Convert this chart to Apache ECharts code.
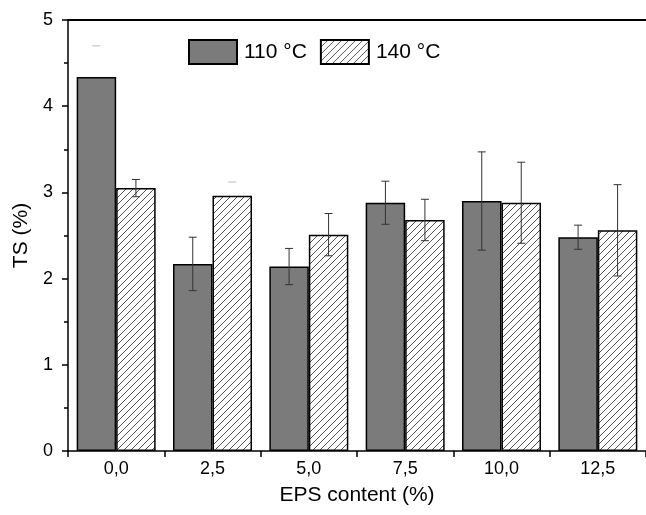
<!DOCTYPE html>
<html>
<head>
<meta charset="utf-8">
<script src="https://cdn.jsdelivr.net/npm/echarts@6/dist/echarts.min.js"></script>
<style>html,body{margin:0;padding:0;background:#fff;}#c{width:646px;height:515px;}</style>
</head>
<body>
<div id="c"></div>
<script>
const categories = ['0,0', '2,5', '5,0', '7,5', '10,0', '12,5'];
const ts110 = [4.34, 2.17, 2.14, 2.88, 2.90, 2.48];
const err110 = [0.36, 0.31, 0.21, 0.25, 0.57, 0.14];
const ts140 = [3.05, 2.96, 2.51, 2.68, 2.88, 2.56];
const err140 = [0.10, 0.16, 0.245, 0.24, 0.47, 0.53];
const yTicks = [0, 1, 2, 3, 4, 5];

// style: error bars rendered only as a faint upper cap in the original
const capOnly110 = [0];
const capOnly140 = [1];

const FONT = 'Liberation Sans, Arial, sans-serif';

// hatch pattern
const pc = document.createElement('canvas');
pc.width = 7; pc.height = 7;
const pctx = pc.getContext('2d');
pctx.fillStyle = '#fff';
pctx.fillRect(0, 0, 7, 7);
pctx.strokeStyle = '#555';
pctx.lineWidth = 1;
pctx.beginPath();
pctx.moveTo(-1, 8); pctx.lineTo(8, -1);
pctx.moveTo(-8, 8); pctx.lineTo(1, -1);
pctx.moveTo(6, 8); pctx.lineTo(15, -1);
pctx.stroke();

const GAP = 0.18;

function errSeries(name, vals, errs, side, capOnly) {
  return {
    type: 'custom',
    name: name + '_err',
    z: 10,
    data: vals.map((v, i) => [i, v, errs[i]]),
    renderItem: function (params, api) {
      const i = api.value(0), v = api.value(1), e = api.value(2);
      const band = api.size([1, 0])[0];
      const bw = band * (1 - GAP) / 2;
      const c = api.coord([i, v]);
      const x = c[0] + side * bw / 2;
      const yt = api.coord([i, v + e])[1];
      const yb = api.coord([i, v - e])[1];
      const cap = 4;
      if (capOnly.indexOf(i) >= 0) {
        return { type: 'line', shape: { x1: x - cap, y1: yt, x2: x + cap, y2: yt }, style: { stroke: '#bbb', lineWidth: 1 } };
      }
      const st = { stroke: '#333', lineWidth: 1 };
      return {
        type: 'group',
        children: [
          { type: 'line', shape: { x1: x, y1: yt, x2: x, y2: yb }, style: st },
          { type: 'line', shape: { x1: x - cap, y1: yt, x2: x + cap, y2: yt }, style: st },
          { type: 'line', shape: { x1: x - cap, y1: yb, x2: x + cap, y2: yb }, style: st }
        ]
      };
    }
  };
}

const chart = echarts.init(document.getElementById('c'), null, { renderer: 'canvas' });
chart.setOption({
  backgroundColor: '#fff',
  animation: false,
  textStyle: { fontFamily: FONT },
  grid: { left: 68, top: 20, width: 585, bottom: 64 },
  legend: {
    data: ['110 °C', '140 °C'],
    left: 183, top: 34,
    icon: 'rect',
    itemWidth: 48, itemHeight: 24,
    itemGap: 13,
    textStyle: { fontSize: 21, color: '#000', fontFamily: FONT, padding: [0, 0, 0, 2] },
    selectedMode: false
  },
  xAxis: [{
    type: 'category',
    data: categories,
    name: 'EPS content (%)',
    nameLocation: 'middle',
    nameGap: 34,
    nameTextStyle: { fontSize: 21, color: '#000', fontFamily: FONT },
    axisLine: { lineStyle: { color: '#000', width: 1.5 } },
    axisTick: { show: true, length: 6, lineStyle: { color: '#000', width: 1.5 } },
    axisLabel: { fontSize: 18, color: '#000', margin: 9, fontFamily: FONT }
  }, {
    type: 'category',
    data: categories,
    position: 'top',
    axisLine: { show: true, lineStyle: { color: '#000', width: 2 } },
    axisTick: { show: false },
    axisLabel: { show: false }
  }],
  yAxis: {
    type: 'value',
    min: yTicks[0], max: yTicks[yTicks.length - 1], interval: 1,
    name: 'TS (%)',
    nameLocation: 'middle',
    nameGap: 30,
    nameTextStyle: { fontSize: 21, color: '#000', fontFamily: FONT },
    axisLine: { show: true, lineStyle: { color: '#000', width: 1.5 } },
    axisTick: { show: true, length: 6, lineStyle: { color: '#000', width: 1.5 } },
    minorTick: { show: true, splitNumber: 2, length: 4, lineStyle: { color: '#000', width: 1.5 } },
    splitLine: { show: false },
    axisLabel: { fontSize: 18, color: '#000', margin: 15, fontFamily: FONT }
  },
  series: [
    {
      name: '110 °C', type: 'bar', data: ts110,
      barGap: '0%', barCategoryGap: (GAP * 100) + '%',
      itemStyle: { color: '#7b7b7b', borderColor: '#000', borderWidth: 1.5 }
    },
    {
      name: '140 °C', type: 'bar', data: ts140,
      barGap: '0%', barCategoryGap: (GAP * 100) + '%',
      itemStyle: { color: { image: pc, repeat: 'repeat' }, borderColor: '#000', borderWidth: 1.5 }
    },
    errSeries('110', ts110, err110, -1, capOnly110),
    errSeries('140', ts140, err140, 1, capOnly140)
  ]
});
</script>
</body>
</html>
